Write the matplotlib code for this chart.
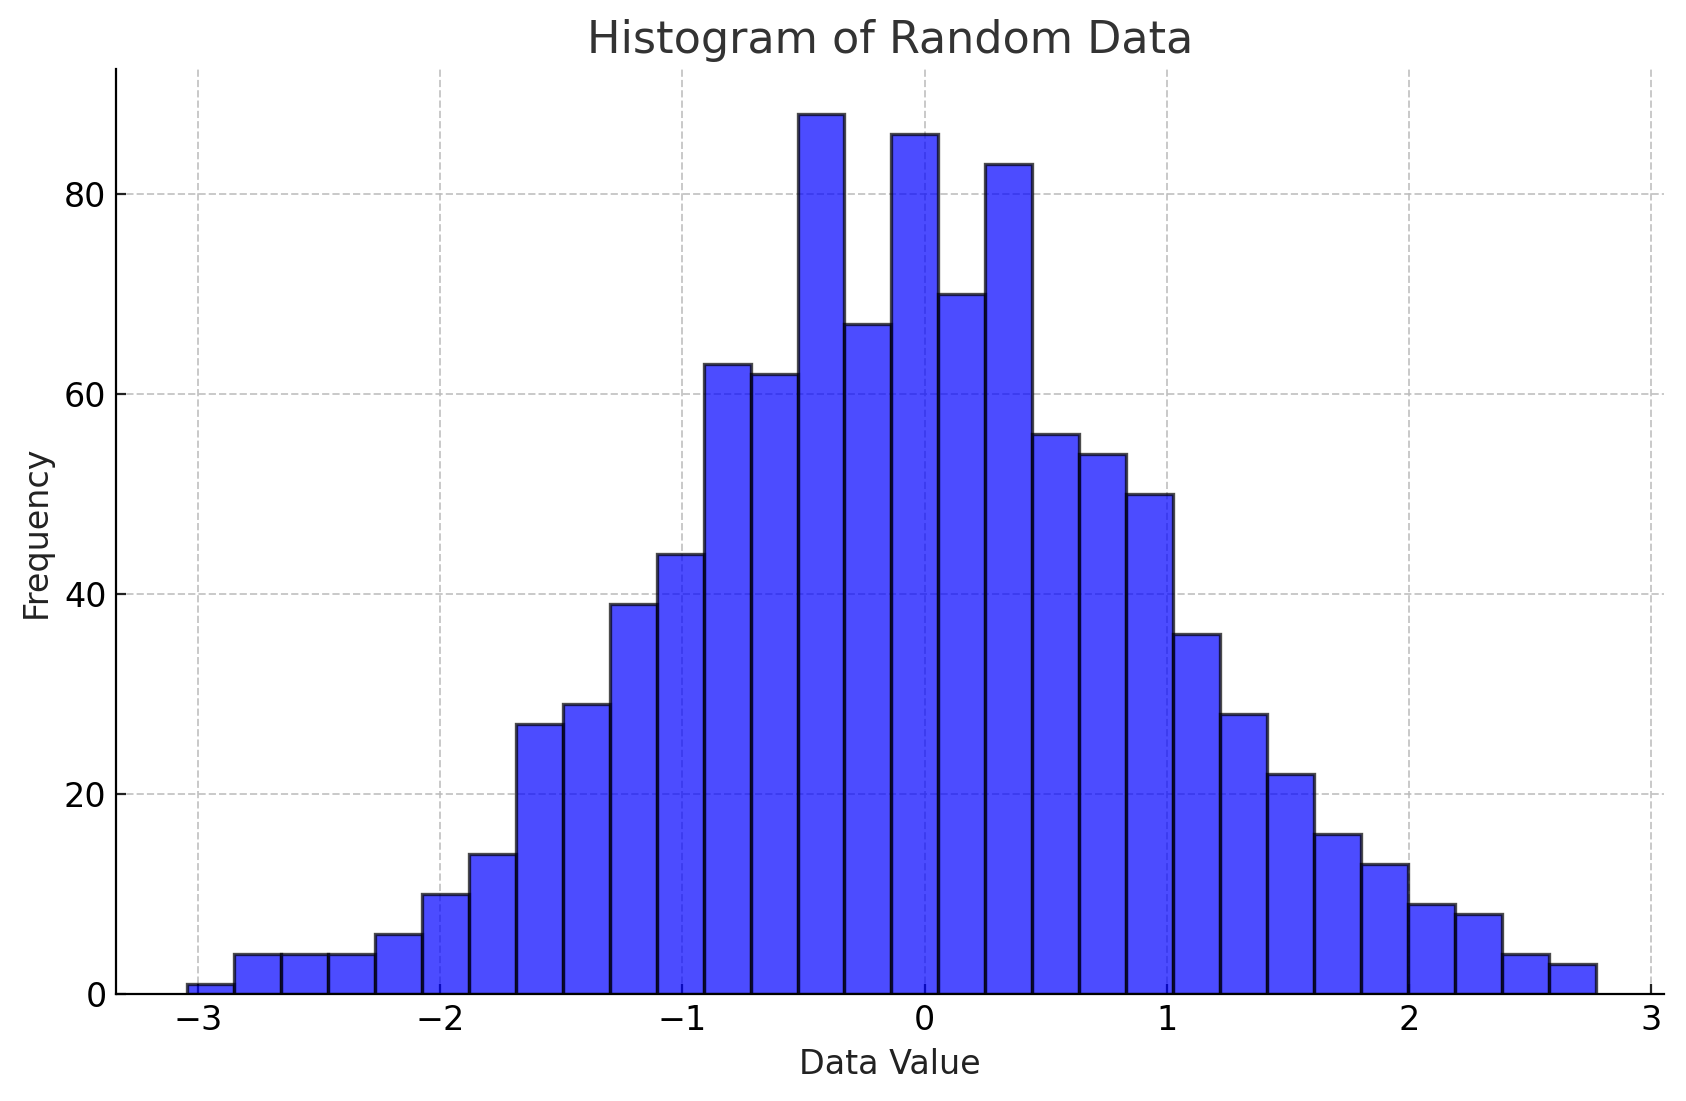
import numpy as np
import matplotlib
matplotlib.use("Agg")
import matplotlib.pyplot as plt

# histogram counts, 30 bins
counts = [1, 4, 4, 4, 6, 10, 14, 27, 29, 39, 44, 63, 62, 88, 67,
          86, 70, 83, 56, 54, 50, 36, 28, 22, 16, 13, 9, 8, 4, 3]
bin_start = -3.044
bin_end = 2.77
edges = np.linspace(bin_start, bin_end, len(counts) + 1)

fig, ax = plt.subplots(figsize=(8.43, 5.505), dpi=200)

ax.hist(edges[:-1], bins=edges, weights=counts, color='blue', alpha=0.7,
        edgecolor='black', linewidth=1.2)

ax.set_title('Histogram of Random Data', fontsize=16, color='#333333')
ax.set_xlabel('Data Value', fontsize=12, color='#222222')
ax.set_ylabel('Frequency', fontsize=12, color='#222222')
ax.tick_params(labelsize=12, direction='in', length=3.5, color='#222222')
ax.grid(True, linestyle='--', color='#bbbbbb', alpha=0.8, linewidth=0.7)
ax.set_axisbelow(True)
ax.spines['top'].set_visible(False)
ax.spines['right'].set_visible(False)
ax.set_xlim(-3.337, 3.053)
ax.set_ylim(0, 92.5)
ax.set_yticks([0, 20, 40, 60, 80])

plt.subplots_adjust(left=0.069, right=0.987, top=0.937, bottom=0.097)
plt.savefig('out.png')
